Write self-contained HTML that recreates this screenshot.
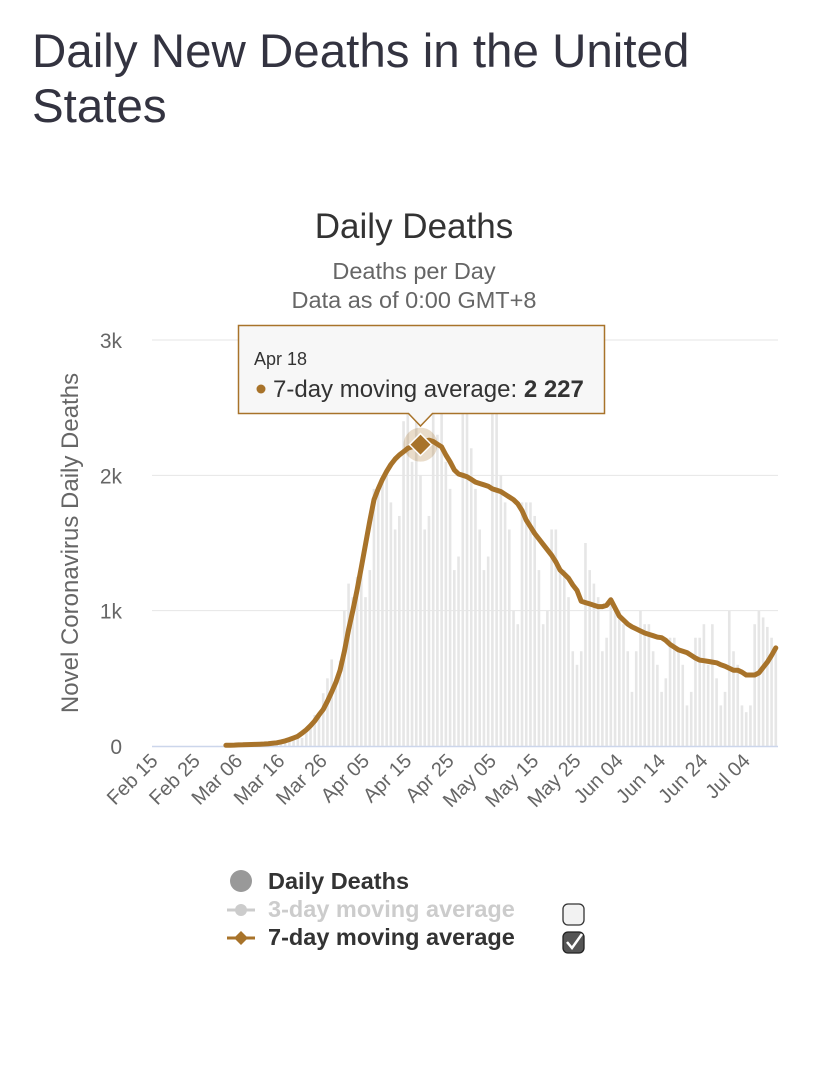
<!DOCTYPE html>
<html><head><meta charset="utf-8">
<style>
body{margin:0;background:#fff;width:828px;height:1069px;overflow:hidden;font-family:"Liberation Sans",sans-serif}
h1{position:absolute;left:32px;top:24px;margin:0;font-weight:normal;font-size:47.5px;line-height:55px;color:#333340;width:740px}
svg{position:absolute;left:0;top:0}
</style></head><body>
<h1>Daily New Deaths in the United States</h1>
<svg id="c" width="828" height="1069"></svg>
<script>
const tickLabels=["Feb 15","Feb 25","Mar 06","Mar 16","Mar 26","Apr 05","Apr 15","Apr 25","May 05","May 15","May 25","Jun 04","Jun 14","Jun 24","Jul 04"];
const yTicks=[0,1000,2000,3000];
const yTickLabels=["0","1k","2k","3k"];
// daily deaths from Feb 15 (148 days)
const dailyDeaths=[0,0,0,0,0,0,0,0,0,0,0,0,0,0,0,
1,0,1,4,3,2,5,4,4,8,7,10,12,12,18,23,33,38,53,60,60,110,130,230,250,390,500,640,480,630,1000,
1200,1100,1250,1300,1100,1300,1900,1900,2000,2000,1800,1600,1700,2400,2500,2100,2600,2000,1600,1700,2600,2300,2700,2100,1900,1300,1400,2600,2500,2200,
1900,1600,1300,1400,2500,2600,2000,1800,1600,1000,900,1800,1800,1800,1700,1300,900,1000,1600,1600,1300,1300,1100,700,600,700,1500,1300,1200,1100,700,
800,1100,1000,1000,900,700,400,700,1000,900,900,700,600,400,500,800,800,700,600,300,400,800,800,900,600,900,500,300,400,1000,
700,600,300,250,300,900,1000,950,880,800,700];
// 7-day moving average starting Mar 03 (day index 17)
const maStart=17;
const movingAvg=[5,6,7,8,9,10,11,12,13,15,17,20,24,
30,38,48,60,72,95,120,150,185,230,
270,330,400,470,560,700,
860,1000,1150,1320,1490,1660,1820,1900,1970,2030,
2080,2120,2150,2175,2200,2210,2220,2227,2250,2260,
2250,2230,2210,2150,2100,2040,2010,2000,1990,1970,
1950,1940,1930,1920,1900,1890,1880,1860,1840,1820,
1790,1740,1670,1620,1570,1530,1490,1450,1410,1360,
1300,1270,1240,1190,1150,1070,1060,1050,1040,1030,1030,
1040,1080,1020,960,930,900,880,865,850,835,
825,815,805,800,780,750,730,710,700,690,
670,650,635,630,625,620,615,600,590,575,
560,560,545,525,525,525,540,580,620,670,725];
const hoverIndex=63; // Apr 18

const svg=document.getElementById('c');const NS='http://www.w3.org/2000/svg';
function mk(t,a,p){const e=document.createElementNS(NS,t);for(const k in a)e.setAttribute(k,a[k]);(p||svg).appendChild(e);return e;}
const X0=154,DX=4.23,Y0=746,YK=0.13533;
const xs=i=>X0+i*DX, ys=v=>Y0-v*YK;

let e;
e=mk('text',{x:414,y:238,'text-anchor':'middle','font-size':35,fill:'#333'});e.textContent='Daily Deaths';


e=mk('text',{x:414,y:279,'text-anchor':'middle','font-size':23.5,fill:'#666'});e.textContent='Deaths per Day';


e=mk('text',{x:414,y:308,'text-anchor':'middle','font-size':23.5,fill:'#666'});e.textContent='Data as of 0:00 GMT+8';



yTicks.forEach((v,i)=>{
 if(v>0){e=mk('line',{x1:152,x2:778,y1:ys(v),y2:ys(v),stroke:'#e6e6e6','stroke-width':1});
 
 }
 e=mk('text',{x:122,y:ys(v)+8,'text-anchor':'end','font-size':21,fill:'#666'});e.textContent=yTickLabels[i];
 
 
});
e=mk('text',{x:0,y:0,transform:'translate(78,543) rotate(-90)','text-anchor':'middle','font-size':24,fill:'#666'});e.textContent='Novel Coronavirus Daily Deaths';



dailyDeaths.forEach((v,i)=>{
 e=mk('rect',{x:xs(i)-1.3,y:ys(v),width:2.6,height:v*YK,fill:'#e6e6e6'});
 
 
});
e=mk('line',{x1:152,x2:778,y1:Y0+0.5,y2:Y0+0.5,stroke:'#ccd6eb','stroke-width':1.5});



tickLabels.forEach((t,i)=>{
 const x=xs(i*10);
 e=mk('text',{x:0,y:0,transform:`translate(${x+5},${Y0+16}) rotate(-45)`,'text-anchor':'end','font-size':20,fill:'#666'});e.textContent=t;
 
 
});

const d=movingAvg.map((v,i)=>(i?'L':'M')+xs(i+maStart).toFixed(1)+' '+ys(v).toFixed(1)).join(' ');
e=mk('path',{d:d,fill:'none',stroke:'#a8732a','stroke-width':5,'stroke-linejoin':'round','stroke-linecap':'round'});



const hx=xs(hoverIndex),hy=ys(movingAvg[hoverIndex-maStart]);
e=mk('circle',{cx:hx,cy:hy,r:17,fill:'rgba(168,115,42,0.25)'});


e=mk('path',{d:`M${hx} ${hy-11} L${hx+11} ${hy} L${hx} ${hy+11} L${hx-11} ${hy} Z`,fill:'#a8732a',stroke:'#fff','stroke-width':1.5});



// tooltip
e=mk('path',{d:`M238.5 325.5 H604.5 V413.5 H${hx+12} L${hx} 426 L${hx-12} 413.5 H238.5 Z`,fill:'#f7f7f7',stroke:'#a8732a','stroke-width':1.5});


e=mk('text',{x:254,y:365,'font-size':18,fill:'#333'});e.textContent='Apr 18';


e=mk('circle',{cx:261,cy:389,r:4.5,fill:'#a8732a'});


e=mk('text',{x:273,y:397,'font-size':24,fill:'#333'});e.innerHTML='7-day moving average: <tspan font-weight="bold">2 227</tspan>';



// legend
e=mk('circle',{cx:241,cy:881,r:11,fill:'#999'});


e=mk('text',{x:268,y:889,'font-size':23.5,'font-weight':'bold',fill:'#333'});e.textContent='Daily Deaths';


e=mk('line',{x1:227,x2:255,y1:910,y2:910,stroke:'#ccc','stroke-width':3});


e=mk('circle',{cx:241,cy:910,r:6,fill:'#ccc'});


e=mk('text',{x:268,y:917,'font-size':23.5,'font-weight':'bold',fill:'#ccc'});e.textContent='3-day moving average';


e=mk('rect',{x:563,y:904,width:21,height:21,rx:5,fill:'#f2f2f2',stroke:'#333','stroke-width':1.3});


e=mk('line',{x1:227,x2:255,y1:938,y2:938,stroke:'#a8732a','stroke-width':3});


e=mk('path',{d:'M241 931 L248 938 L241 945 L234 938 Z',fill:'#a8732a'});


e=mk('text',{x:268,y:945,'font-size':23.5,'font-weight':'bold',fill:'#333'});e.textContent='7-day moving average';


e=mk('rect',{x:563,y:932,width:21,height:21,rx:5,fill:'#555',stroke:'#222','stroke-width':1.3});


e=mk('path',{d:'M567 942 L572 948 L582 934',fill:'none',stroke:'#fff','stroke-width':2.5});


</script>
</body></html>
